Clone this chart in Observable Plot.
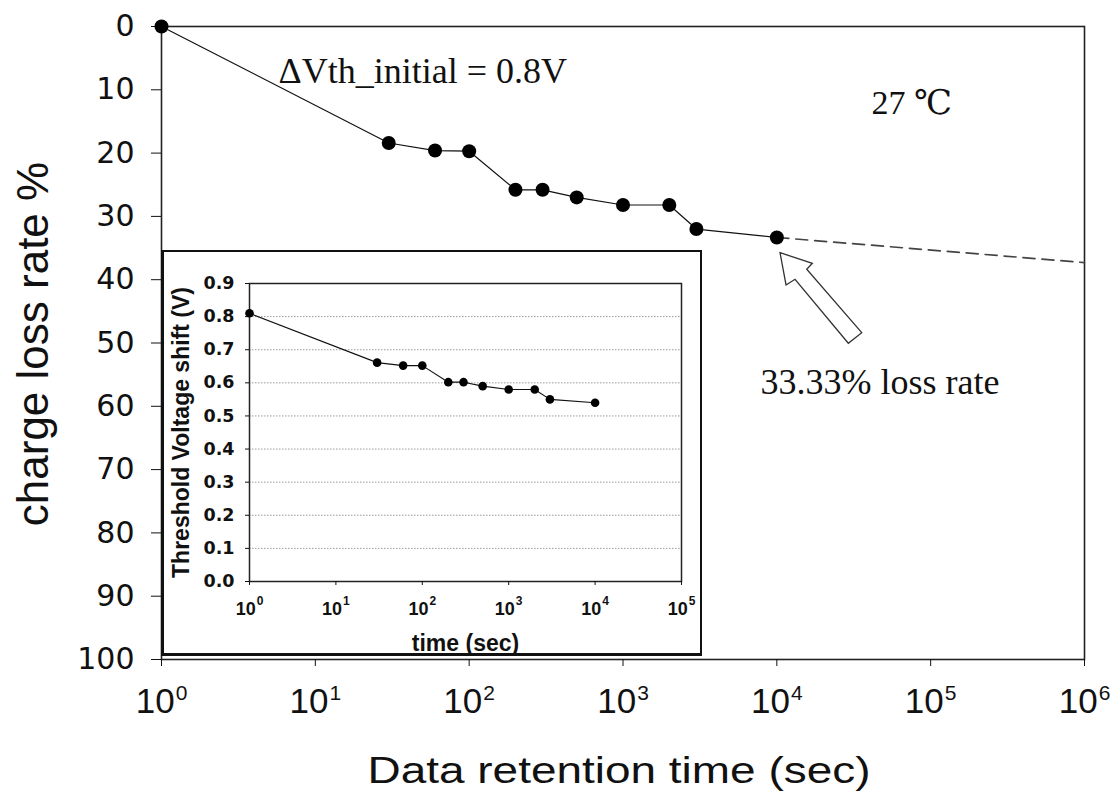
<!DOCTYPE html>
<html><head><meta charset="utf-8">
<script src="https://cdn.jsdelivr.net/npm/d3@7"></script>
<script src="https://cdn.jsdelivr.net/npm/@observablehq/plot@0.6"></script>
<style>
html,body{margin:0;padding:0;background:#fff;}
#fig{position:relative;width:1117px;height:796px;overflow:hidden;background:#fff;}
#main{position:absolute;left:0;top:0;}
#inset{position:absolute;left:161px;top:250px;width:541px;height:406px;box-sizing:border-box;background:#fff;border-style:solid;border-color:#111;border-width:2px 2px 3px 3px;}
#fig svg{overflow:visible;display:block;}
</style></head><body>
<div id="fig"><div id="main"></div><div id="inset"></div></div>
<script>
// ---- data ----
const retentionTime = [1, 30, 60, 100, 200, 300, 500, 1000, 2000, 3000, 10000];
const chargeLossRate = [0, 18.4, 19.6, 19.7, 25.8, 25.8, 27.0, 28.2, 28.2, 32.0, 33.33];
const thresholdShift = [0.81, 0.661, 0.652, 0.652, 0.602, 0.602, 0.590, 0.580, 0.580, 0.550, 0.540];
const extrapTime = [10000, 1000000];
const extrapLoss = [33.33, 37.3];
const mainXTicks = [1, 10, 100, 1000, 10000, 100000, 1000000];
const mainYTicks = [0, 10, 20, 30, 40, 50, 60, 70, 80, 90, 100];
const insetXTicks = [1, 10, 100, 1000, 10000, 100000];
const insetYTicks = [0, 0.1, 0.2, 0.3, 0.4, 0.5, 0.6, 0.7, 0.8, 0.9];
const insetGrid = [0.1, 0.2, 0.3, 0.4, 0.5, 0.6, 0.7, 0.8];
const labelInitial = "ΔVth_initial = 0.8V";
const labelTemp = "27 ℃";
const labelLoss = "33.33% loss rate";

const mainData = retentionTime.map((t, i) => ({t, loss: chargeLossRate[i]}));
const insetData = retentionTime.map((t, i) => ({t, v: thresholdShift[i]}));
const extrapData = extrapTime.map((t, i) => ({t, loss: extrapLoss[i]}));

const powFmt = d => "10^" + Math.round(Math.log10(d));
const SANS = "'Liberation Sans', Arial, Helvetica, sans-serif";
const SERIF = "'Liberation Serif', 'Times New Roman', 'DejaVu Serif', serif";

// hollow block arrow pointing at the last measured point (pixel offsets = style)
const arrowShape = [[3.7,15.7],[36,26.3],[30.4,32.3],[85.4,95.7],[72,106.3],[18.7,42.3],[9.7,48]];
function hollowArrow(index, scales) {
  const px = scales.x(retentionTime[retentionTime.length - 1]);
  const py = scales.y(chargeLossRate[chargeLossRate.length - 1]);
  const d = "M" + arrowShape.map(([dx, dy]) => `${px + dx},${py + dy}`).join("L") + "Z";
  return d3.create("svg:path").attr("d", d).attr("fill", "#fff")
    .attr("stroke", "#333").attr("stroke-width", 1.3).attr("stroke-linejoin", "miter").node();
}

function superscripts(svg, supSize, supDy) {
  d3.select(svg).selectAll('g[aria-label="x-axis tick label"] text').each(function () {
    const parts = this.textContent.split("^");
    if (parts.length !== 2) return;
    const s = d3.select(this);
    s.text(parts[0]);
    s.append("tspan").attr("font-size", supSize).attr("dy", supDy).attr("dx", 1).text(parts[1]);
  });
}

const main = Plot.plot({
  width: 1117, height: 796,
  marginLeft: 161, marginRight: 33, marginTop: 26, marginBottom: 137,
  style: {fontFamily: SANS, background: "transparent", color: "#111"},
  x: {type: "log", domain: [1, 1e6]},
  y: {domain: [0, 100], reverse: true},
  marks: [
    Plot.frame({stroke: "#222", strokeWidth: 1.6}),
    Plot.axisY({ticks: mainYTicks, tickSize: 10, tickPadding: 17, fontSize: 30, fontFamily: "'DejaVu Sans', sans-serif", label: null, tickFormat: d => String(d)}),
    Plot.axisX({ticks: mainXTicks, tickSize: 7, tickPadding: 22, fontSize: 35, fontFamily: SANS, tickFormat: powFmt, label: null}),
    Plot.text(["charge loss rate %"], {frameAnchor: "left", textAnchor: "middle", rotate: -90, lineAnchor: "bottom", dx: -114, dy: 1, fontSize: 44, fontFamily: SANS, fill: "#111"}),
    Plot.text(["Data retention time (sec)"], {frameAnchor: "bottom", textAnchor: "middle", lineAnchor: "bottom", dx: -4, dy: 123, fontSize: 37, fontFamily: SANS, fill: "#111"}),
    Plot.line(extrapData, {x: "t", y: "loss", stroke: "#444", strokeWidth: 1.7, strokeDasharray: "12,7"}),
    Plot.line(mainData, {x: "t", y: "loss", stroke: "#111", strokeWidth: 1.2}),
    Plot.dot(mainData, {x: "t", y: "loss", r: 7, fill: "#000", stroke: "none"}),
    Plot.text([labelInitial], {frameAnchor: "top-left", textAnchor: "start", lineAnchor: "bottom", dx: 117, dy: 56, fontSize: 36, fontFamily: SERIF, fill: "#111"}),
    Plot.text([labelTemp], {frameAnchor: "top-left", textAnchor: "start", lineAnchor: "bottom", dx: 710, dy: 87, fontSize: 34, fontFamily: SERIF, fill: "#111"}),
    Plot.text([labelLoss], {frameAnchor: "top-left", textAnchor: "start", lineAnchor: "bottom", dx: 599, dy: 367, fontSize: 36, fontFamily: SERIF, fill: "#111"}),
    hollowArrow
  ]
});
superscripts(main, 21, -13);
// make "Data retention time (sec)" as wide as in the reference
d3.select(main).selectAll("text").filter(function () { return this.textContent === "Data retention time (sec)"; })
  .attr("textLength", 503).attr("lengthAdjust", "spacingAndGlyphs");
document.getElementById("main").appendChild(main);

const inset = Plot.plot({
  width: 536, height: 401,
  marginLeft: 85, marginRight: 19, marginTop: 31, marginBottom: 72,
  style: {fontFamily: SANS, background: "transparent", color: "#111"},
  x: {type: "log", domain: [1, 1e5]},
  y: {domain: [0, 0.9]},
  marks: [
    Plot.ruleY(insetGrid, {stroke: "#9a9a9a", strokeWidth: 1, strokeDasharray: "1.5,1.5"}),
    Plot.frame({stroke: "#222", strokeWidth: 1.5}),
    Plot.axisY({ticks: insetYTicks, tickSize: 4, tickPadding: 11, tickFormat: d3.format(".1f"), fontSize: 17.5, fontWeight: "bold", fontFamily: "'DejaVu Sans', sans-serif", label: null}),
    Plot.axisX({ticks: insetXTicks, tickSize: 4, tickPadding: 17, tickFormat: powFmt, fontSize: 18, fontWeight: "bold", fontFamily: SANS, label: null}),
    Plot.line(insetData, {x: "t", y: "v", stroke: "#111", strokeWidth: 1.1}),
    Plot.dot(insetData, {x: "t", y: "v", r: 4.3, fill: "#000", stroke: "none"}),
    Plot.text(["Threshold Voltage shift (V)"], {frameAnchor: "left", textAnchor: "middle", rotate: -90, lineAnchor: "bottom", dx: -61, fontSize: 23, fontWeight: "bold", fontFamily: SANS, fill: "#111"}),
    Plot.text(["time (sec)"], {frameAnchor: "bottom", textAnchor: "middle", lineAnchor: "bottom", dy: 69, fontSize: 23, fontWeight: "bold", fontFamily: SANS, fill: "#111"})
  ]
});
superscripts(inset, 12, -10);
document.getElementById("inset").appendChild(inset);
</script>
</body></html>
